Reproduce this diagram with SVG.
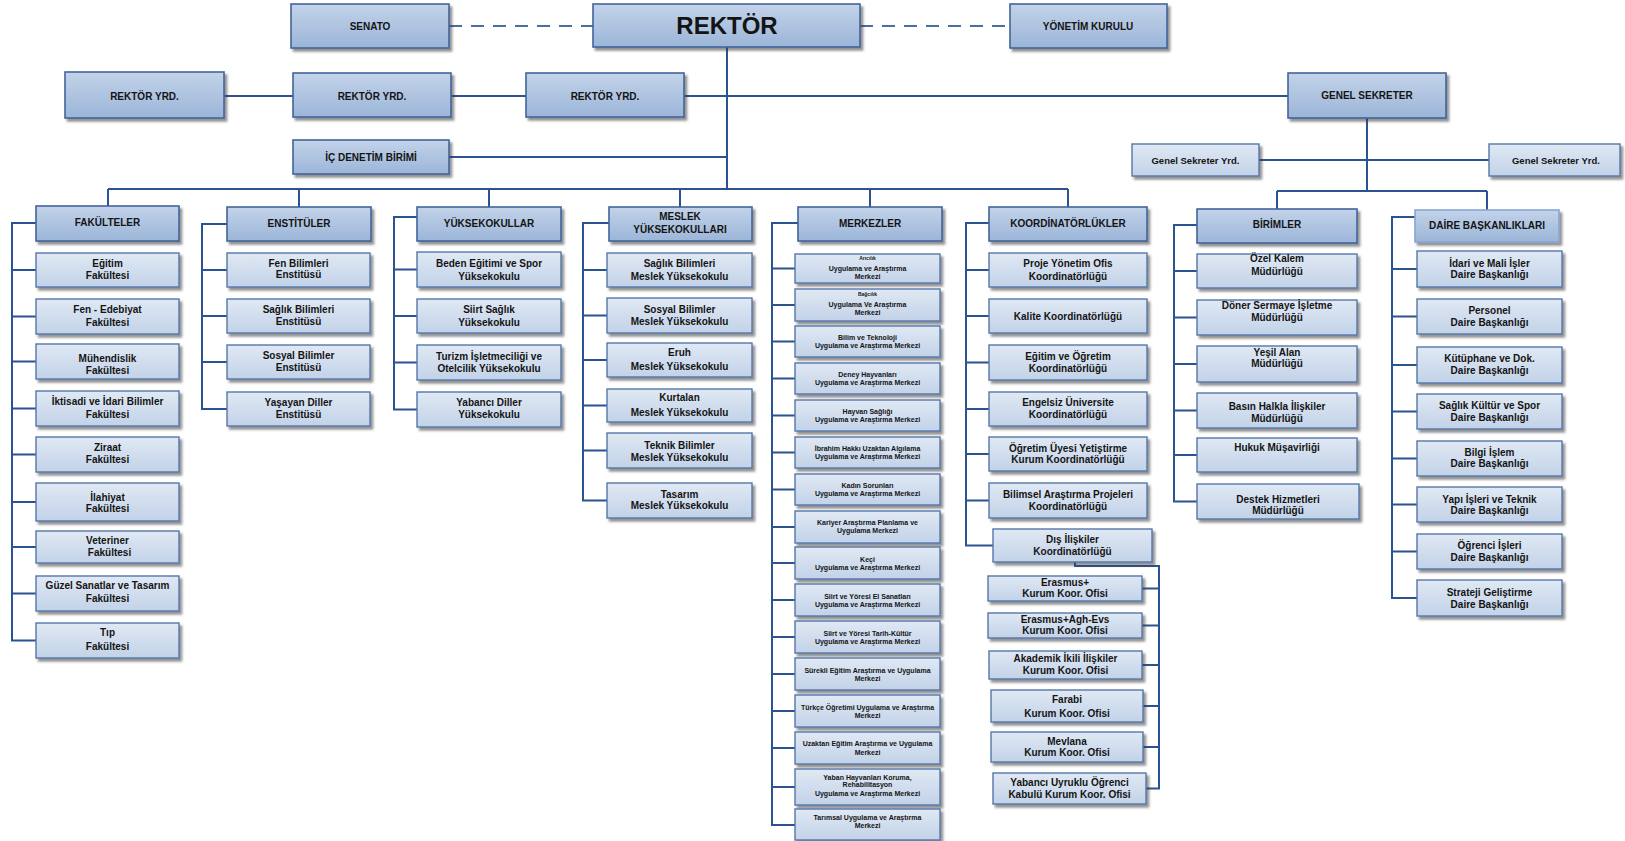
<svg xmlns="http://www.w3.org/2000/svg" width="1625" height="841" viewBox="0 0 1625 841">
<defs>
<linearGradient id="gh" x1="0" y1="0" x2="0" y2="1"><stop offset="0" stop-color="#c3d3e9"/><stop offset="1" stop-color="#9bb5d8"/></linearGradient>
<linearGradient id="gc" x1="0" y1="0" x2="0" y2="1"><stop offset="0" stop-color="#e0e9f4"/><stop offset="1" stop-color="#c2d2e8"/></linearGradient>
<filter id="sh" x="-10%" y="-20%" width="125%" height="150%"><feDropShadow dx="2.5" dy="3" stdDeviation="1.1" flood-color="#3a3a3a" flood-opacity="0.55"/></filter>
<style>
.h{fill:url(#gh);stroke:#41649a;stroke-width:1.6;filter:url(#sh)}
.c{fill:url(#gc);stroke:#5577a8;stroke-width:1.4;filter:url(#sh)}
.d{fill:url(#gh);stroke:#86a6d6;stroke-width:1.6;filter:url(#sh)}
text{font-family:"Liberation Sans",Arial,sans-serif;font-weight:bold;fill:#141414;text-anchor:middle;font-size:10px}
.f7{font-size:7px}.f5{font-size:5px}.big{font-size:24px}.n{font-size:9.5px}
.ln{fill:none;stroke:#2c5391;stroke-width:2}
.ds{fill:none;stroke:#4a6e9f;stroke-width:2;stroke-dasharray:13 9}
</style>
</defs>
<rect width="1625" height="841" fill="#ffffff"/>

<g id="connectors">
<path class="ds" d="M449 26H593M860 26H1010"/>
<path class="ln" d="M727 47V189M224 96H293M451 96H526M684 96H1288M449 157H727"/>
<path class="ln" d="M108 189H1068M108 189V206M299 189V207M489 189V207M680 189V207M870 189V207M1068 189V207"/>
<path class="ln" d="M1367 118V191M1259 160H1489M1277 191H1487M1277 191V209M1487 191V210"/>
<path class="ln" d="M36 223H12V640.5H36M12 270H36M12 316.5H36M12 361.5H36M12 408.5H36M12 454.5H36M12 502H36M12 547H36M12 593.5H36"/>
<path class="ln" d="M227 224H202V409H227M202 270H227M202 316H227M202 362H227"/>
<path class="ln" d="M417 217H394V409.5H417M394 269.5H417M394 316H417M394 362.5H417"/>
<path class="ln" d="M609 223H583V500.5H607M583 270H607M583 315.5H607M583 360H607M583 405.5H607M583 450.5H607"/>
<path class="ln" d="M798 223H772V825H795M772 268.5H795M772 305H795M772 341.5H795M772 378.5H795M772 415.5H795M772 452.5H795M772 489.5H795M772 527H795M772 563H795M772 600H795M772 637H795M772 674H795M772 711H795M772 748H795M772 787H795"/>
<path class="ln" d="M989 223H966V545.5H993M966 270H989M966 316H989M966 362.5H989M966 409H989M966 454H989M966 500.5H989"/>
<path class="ln" d="M1075 562V566H1159V788.5H1146M1159 588.5H1142M1159 625.5H1142M1159 665H1142M1159 706H1143M1159 747H1143"/>
<path class="ln" d="M1197 225H1174V501.5H1197M1174 271H1197M1174 317.5H1197M1174 364H1197M1174 410.5H1197M1174 455H1197"/>
<path class="ln" d="M1415 217H1392V598H1417M1392 269H1417M1392 316.5H1417M1392 365H1417M1392 411.5H1417M1392 458.5H1417M1392 504.5H1417M1392 551.5H1417"/>
</g>

<g id="senato"><rect class="h" x="291" y="4" width="158" height="44"/><text x="370" y="29.5">SENATO</text></g>
<g id="rektor"><rect class="h" x="593" y="4" width="267" height="43"/><text class="big" x="727" y="34">REKTÖR</text></g>
<g id="yonetim-kurulu"><rect class="h" x="1010" y="4" width="157" height="44"/><text x="1088" y="29.5">YÖNETİM KURULU</text></g>
<g id="rektor-yrd-1"><rect class="h" x="65" y="72" width="159" height="46"/><text x="144.5" y="99.5">REKTÖR YRD.</text></g>
<g id="rektor-yrd-2"><rect class="h" x="293" y="73" width="158" height="44"/><text x="372" y="99.5">REKTÖR YRD.</text></g>
<g id="rektor-yrd-3"><rect class="h" x="526" y="73" width="158" height="44"/><text x="605" y="99.5">REKTÖR YRD.</text></g>
<g id="genel-sekreter"><rect class="h" x="1288" y="73" width="158" height="45"/><text x="1367" y="98.5">GENEL SEKRETER</text></g>
<g id="ic-denetim"><rect class="h" x="293" y="140" width="156" height="34"/><text x="371" y="160.5">İÇ DENETİM BİRİMİ</text></g>
<g id="gs-yrd-1"><rect class="c" x="1132" y="144" width="127" height="32"/><text class="n" x="1195.5" y="163.5">Genel Sekreter Yrd.</text></g>
<g id="gs-yrd-2"><rect class="c" x="1489" y="144" width="131" height="32"/><text class="n" x="1556" y="163.5">Genel Sekreter Yrd.</text></g>

<g id="fakulteler"><rect class="h" x="36" y="206" width="143" height="35"/><text x="107.5" y="226">FAKÜLTELER</text></g>
<g id="f-egitim"><rect class="c" x="36" y="253" width="143" height="34"/><text x="107.5" y="266.5">Eğitim</text><text x="107.5" y="278.5">Fakültesi</text></g>
<g id="f-fen"><rect class="c" x="36" y="299" width="143" height="35"/><text x="107.5" y="312.5">Fen - Edebiyat</text><text x="107.5" y="325.5">Fakültesi</text></g>
<g id="f-muh"><rect class="c" x="36" y="344" width="143" height="35"/><text x="107.5" y="361.5">Mühendislik</text><text x="107.5" y="373.5">Fakültesi</text></g>
<g id="f-iktisadi"><rect class="c" x="36" y="391" width="143" height="35"/><text x="107.5" y="404.5">İktisadi ve İdari Bilimler</text><text x="107.5" y="417.5">Fakültesi</text></g>
<g id="f-ziraat"><rect class="c" x="36" y="437" width="143" height="35"/><text x="107.5" y="450.5">Ziraat</text><text x="107.5" y="462.5">Fakültesi</text></g>
<g id="f-ilahiyat"><rect class="c" x="36" y="483" width="143" height="38"/><text x="107.5" y="500.5">İlahiyat</text><text x="107.5" y="511.5">Fakültesi</text></g>
<g id="f-veteriner"><rect class="c" x="36" y="531" width="143" height="32"/><text x="107.5" y="543.5">Veteriner</text><text x="109.5" y="555.5">Fakültesi</text></g>
<g id="f-guzel"><rect class="c" x="36" y="576" width="143" height="35"/><text x="107.5" y="588.5">Güzel Sanatlar ve Tasarım</text><text x="107.5" y="601.5">Fakültesi</text></g>
<g id="f-tip"><rect class="c" x="36" y="623" width="143" height="35"/><text x="107.5" y="635.5">Tıp</text><text x="107.5" y="649.5">Fakültesi</text></g>

<g id="enstituler"><rect class="h" x="227" y="207" width="144" height="34"/><text x="299" y="226.5">ENSTİTÜLER</text></g>
<g id="e-fen"><rect class="c" x="227" y="253" width="143" height="34"/><text x="298.5" y="266.5">Fen Bilimleri</text><text x="298.5" y="277.5">Enstitüsü</text></g>
<g id="e-saglik"><rect class="c" x="227" y="299" width="143" height="34"/><text x="298.5" y="312.5">Sağlık Bilimleri</text><text x="298.5" y="324.5">Enstitüsü</text></g>
<g id="e-sosyal"><rect class="c" x="227" y="345" width="143" height="34"/><text x="298.5" y="358.5">Sosyal Bilimler</text><text x="298.5" y="370.5">Enstitüsü</text></g>
<g id="e-yasayan"><rect class="c" x="227" y="392" width="143" height="34"/><text x="298.5" y="405.5">Yaşayan Diller</text><text x="298.5" y="417.5">Enstitüsü</text></g>

<g id="yuksekokullar"><rect class="h" x="417" y="207" width="144" height="34"/><text x="489" y="226.5">YÜKSEKOKULLAR</text></g>
<g id="y-beden"><rect class="c" x="417" y="252" width="144" height="35"/><text x="489" y="266.5">Beden Eğitimi ve Spor</text><text x="489" y="279.5">Yüksekokulu</text></g>
<g id="y-siirt"><rect class="c" x="417" y="299" width="144" height="34"/><text x="489" y="312.5">Siirt Sağlık</text><text x="489" y="325.5">Yüksekokulu</text></g>
<g id="y-turizm"><rect class="c" x="417" y="345" width="144" height="35"/><text x="489" y="359.5">Turizm İşletmeciliği ve</text><text x="489" y="371.5">Otelcilik Yüksekokulu</text></g>
<g id="y-yabanci"><rect class="c" x="417" y="392" width="144" height="35"/><text x="489" y="405.5">Yabancı Diller</text><text x="489" y="417.5">Yüksekokulu</text></g>

<g id="meslek-yuksekokullari"><rect class="h" x="609" y="207" width="143" height="34"/><text x="680" y="219.5">MESLEK</text><text x="680" y="232.5">YÜKSEKOKULLARI</text></g>
<g id="m-saglik"><rect class="c" x="607" y="253" width="145" height="34"/><text x="679.5" y="266.5">Sağlık Bilimleri</text><text x="679.5" y="279.5">Meslek Yüksekokulu</text></g>
<g id="m-sosyal"><rect class="c" x="607" y="298" width="145" height="35"/><text x="679.5" y="312.5">Sosyal Bilimler</text><text x="679.5" y="324.5">Meslek Yüksekokulu</text></g>
<g id="m-eruh"><rect class="c" x="607" y="343" width="145" height="34"/><text x="679.5" y="355.5">Eruh</text><text x="679.5" y="369.5">Meslek Yüksekokulu</text></g>
<g id="m-kurtalan"><rect class="c" x="607" y="389" width="145" height="33"/><text x="679.5" y="400.5">Kurtalan</text><text x="679.5" y="415.5">Meslek Yüksekokulu</text></g>
<g id="m-teknik"><rect class="c" x="607" y="433" width="145" height="35"/><text x="679.5" y="448.5">Teknik Bilimler</text><text x="679.5" y="460.5">Meslek Yüksekokulu</text></g>
<g id="m-tasarim"><rect class="c" x="607" y="483" width="145" height="35"/><text x="679.5" y="497.5">Tasarım</text><text x="679.5" y="508.5">Meslek Yüksekokulu</text></g>

<g id="merkezler"><rect class="h" x="798" y="207" width="144" height="34"/><text x="870" y="226.5">MERKEZLER</text></g>
<g id="mk-aricilik"><rect class="c" x="795" y="254" width="145" height="29"/><text class="f5" x="867.5" y="259.8">Arıcılık</text><text class="f7" x="867.5" y="270.5">Uygulama ve Araştırma</text><text class="f7" x="867.5" y="278.5">Merkezi</text></g>
<g id="mk-bagcilik"><rect class="c" x="795" y="289" width="145" height="32"/><text class="f5" x="867.5" y="295.8">Bağcılık</text><text class="f7" x="867.5" y="306.5">Uygulama Ve Araştırma</text><text class="f7" x="867.5" y="314.5">Merkezi</text></g>
<g id="mk-bilim"><rect class="c" x="795" y="326" width="145" height="31"/><text class="f7" x="867.5" y="339.5">Bilim ve Teknoloji</text><text class="f7" x="867.5" y="347.5">Uygulama ve Araştırma Merkezi</text></g>
<g id="mk-deney"><rect class="c" x="795" y="363" width="145" height="31"/><text class="f7" x="867.5" y="376.5">Deney Hayvanları</text><text class="f7" x="867.5" y="384.5">Uygulama ve Araştırma Merkezi</text></g>
<g id="mk-hayvan"><rect class="c" x="795" y="400" width="145" height="31"/><text class="f7" x="867.5" y="413.5">Hayvan Sağlığı</text><text class="f7" x="867.5" y="421.5">Uygulama ve Araştırma Merkezi</text></g>
<g id="mk-ibrahim"><rect class="c" x="795" y="437" width="145" height="31"/><text class="f7" x="867.5" y="450.5">İbrahim Hakkı Uzaktan Algılama</text><text class="f7" x="867.5" y="458.5">Uygulama ve Araştırma Merkezi</text></g>
<g id="mk-kadin"><rect class="c" x="795" y="474" width="145" height="31"/><text class="f7" x="867.5" y="487.5">Kadın Sorunları</text><text class="f7" x="867.5" y="495.5">Uygulama ve Araştırma Merkezi</text></g>
<g id="mk-kariyer"><rect class="c" x="795" y="511" width="145" height="32"/><text class="f7" x="867.5" y="524.5">Kariyer Araştırma Planlama ve</text><text class="f7" x="867.5" y="532.5">Uygulama  Merkezi</text></g>
<g id="mk-keci"><rect class="c" x="795" y="547" width="145" height="32"/><text class="f7" x="867.5" y="561.5">Keçi</text><text class="f7" x="867.5" y="569.5">Uygulama ve Araştırma Merkezi</text></g>
<g id="mk-elsanat"><rect class="c" x="795" y="584" width="145" height="32"/><text class="f7" x="867.5" y="598.5">Siirt ve Yöresi El Sanatları</text><text class="f7" x="867.5" y="606.5">Uygulama ve Araştırma Merkezi</text></g>
<g id="mk-tarih"><rect class="c" x="795" y="621" width="145" height="32"/><text class="f7" x="867.5" y="635.5">Siirt ve Yöresi Tarih-Kültür</text><text class="f7" x="867.5" y="643.5">Uygulama ve Araştırma Merkezi</text></g>
<g id="mk-surekli"><rect class="c" x="795" y="658" width="145" height="32"/><text class="f7" x="867.5" y="672.5">Sürekli Eğitim Araştırma ve Uygulama</text><text class="f7" x="867.5" y="680.5">Merkezi</text></g>
<g id="mk-turkce"><rect class="c" x="795" y="695" width="145" height="32"/><text class="f7" x="867.5" y="709.5">Türkçe Öğretimi Uygulama ve Araştırma</text><text class="f7" x="867.5" y="717.5">Merkezi</text></g>
<g id="mk-uzaktan"><rect class="c" x="795" y="732" width="145" height="32"/><text class="f7" x="867.5" y="745.5">Uzaktan Eğitim Araştırma ve Uygulama</text><text class="f7" x="867.5" y="754.5">Merkezi</text></g>
<g id="mk-yaban"><rect class="c" x="795" y="769" width="145" height="36"/><text class="f7" x="867.5" y="779.5">Yaban Hayvanları Koruma,</text><text class="f7" x="867.5" y="786.5">Rehabilitasyon</text><text class="f7" x="867.5" y="795.5">Uygulama ve Araştırma Merkezi</text></g>
<g id="mk-tarimsal"><rect class="c" x="795" y="809" width="145" height="31"/><text class="f7" x="867.5" y="819.5">Tarımsal Uygulama ve Araştırma</text><text class="f7" x="867.5" y="827.5">Merkezi</text></g>

<g id="koordinatorlukler"><rect class="h" x="989" y="207" width="158" height="34"/><text x="1068" y="226.5">KOORDİNATÖRLÜKLER</text></g>
<g id="k-proje"><rect class="c" x="989" y="253" width="158" height="34"/><text x="1068" y="266.5">Proje Yönetim Ofis</text><text x="1068" y="279.5">Koordinatörlüğü</text></g>
<g id="k-kalite"><rect class="c" x="989" y="299" width="158" height="34"/><text x="1068" y="319.5">Kalite Koordinatörlüğü</text></g>
<g id="k-egitim"><rect class="c" x="989" y="345" width="158" height="35"/><text x="1068" y="359.5">Eğitim ve Öğretim</text><text x="1068" y="371.5">Koordinatörlüğü</text></g>
<g id="k-engelsiz"><rect class="c" x="989" y="392" width="158" height="34"/><text x="1068" y="405.5">Engelsiz Üniversite</text><text x="1068" y="417.5">Koordinatörlüğü</text></g>
<g id="k-ogretim"><rect class="c" x="989" y="437" width="158" height="34"/><text x="1068" y="451.5">Öğretim Üyesi Yetiştirme</text><text x="1068" y="462.5">Kurum Koordinatörlüğü</text></g>
<g id="k-bilimsel"><rect class="c" x="989" y="483" width="158" height="35"/><text x="1068" y="497.5">Bilimsel Araştırma Projeleri</text><text x="1068" y="509.5">Koordinatörlüğü</text></g>
<g id="k-dis"><rect class="c" x="993" y="529" width="159" height="33"/><text x="1072.5" y="542.5">Dış İlişkiler</text><text x="1072.5" y="554.5">Koordinatörlüğü</text></g>

<g id="o-erasmus"><rect class="c" x="988" y="576" width="154" height="25"/><text x="1065" y="585.5">Erasmus+</text><text x="1065" y="596.5">Kurum Koor. Ofisi</text></g>
<g id="o-agh"><rect class="c" x="988" y="613" width="154" height="25"/><text x="1065" y="622.5">Erasmus+Agh-Evs</text><text x="1065" y="633.5">Kurum Koor. Ofisi</text></g>
<g id="o-akademik"><rect class="c" x="989" y="651" width="153" height="28"/><text x="1065.5" y="661.5">Akademik İkili İlişkiler</text><text x="1065.5" y="673.5">Kurum Koor. Ofisi</text></g>
<g id="o-farabi"><rect class="c" x="991" y="690" width="152" height="32"/><text x="1067" y="702.5">Farabi</text><text x="1067" y="716.5">Kurum Koor. Ofisi</text></g>
<g id="o-mevlana"><rect class="c" x="991" y="732" width="152" height="30"/><text x="1067" y="744.5">Mevlana</text><text x="1067" y="755.5">Kurum Koor. Ofisi</text></g>
<g id="o-yabanci"><rect class="c" x="993" y="773" width="153" height="31"/><text x="1069.5" y="785.5">Yabancı Uyruklu Öğrenci</text><text x="1069.5" y="797.5">Kabulü Kurum Koor. Ofisi</text></g>

<g id="birimler"><rect class="h" x="1197" y="209" width="160" height="34"/><text x="1277" y="227.5">BİRİMLER</text></g>
<g id="b-ozel"><rect class="c" x="1197" y="254" width="160" height="34"/><text x="1277" y="261.5">Özel Kalem</text><text x="1277" y="274.5">Müdürlüğü</text></g>
<g id="b-doner"><rect class="c" x="1197" y="300" width="160" height="35"/><text x="1277" y="308.5">Döner Sermaye İşletme</text><text x="1277" y="320.5">Müdürlüğü</text></g>
<g id="b-yesil"><rect class="c" x="1197" y="346" width="160" height="36"/><text x="1277" y="355.5">Yeşil Alan</text><text x="1277" y="366.5">Müdürlüğü</text></g>
<g id="b-basin"><rect class="c" x="1197" y="393" width="160" height="35"/><text x="1277" y="409.5">Basın Halkla İlişkiler</text><text x="1277" y="421.5">Müdürlüğü</text></g>
<g id="b-hukuk"><rect class="c" x="1197" y="438" width="160" height="34"/><text x="1277" y="450.5">Hukuk Müşavirliği</text></g>
<g id="b-destek"><rect class="c" x="1197" y="484" width="162" height="35"/><text x="1278" y="502.5">Destek Hizmetleri</text><text x="1278" y="513.5">Müdürlüğü</text></g>

<g id="daire-baskanliklari"><rect class="d" x="1415" y="210" width="144" height="32"/><text x="1487" y="228.5">DAİRE BAŞKANLIKLARI</text></g>
<g id="d-idari"><rect class="c" x="1417" y="251" width="145" height="36"/><text x="1489.5" y="266.5">İdari ve Mali İşler</text><text x="1489.5" y="277.5">Daire Başkanlığı</text></g>
<g id="d-personel"><rect class="c" x="1417" y="299" width="145" height="35"/><text x="1489.5" y="313.5">Personel</text><text x="1489.5" y="325.5">Daire Başkanlığı</text></g>
<g id="d-kutuphane"><rect class="c" x="1417" y="347" width="145" height="36"/><text x="1489.5" y="361.5">Kütüphane ve Dok.</text><text x="1489.5" y="373.5">Daire Başkanlığı</text></g>
<g id="d-saglik"><rect class="c" x="1417" y="394" width="145" height="35"/><text x="1489.5" y="408.5">Sağlık Kültür ve Spor</text><text x="1489.5" y="420.5">Daire Başkanlığı</text></g>
<g id="d-bilgi"><rect class="c" x="1417" y="441" width="145" height="35"/><text x="1489.5" y="455.5">Bilgi İşlem</text><text x="1489.5" y="466.5">Daire Başkanlığı</text></g>
<g id="d-yapi"><rect class="c" x="1417" y="487" width="145" height="35"/><text x="1489.5" y="502.5">Yapı İşleri ve Teknik</text><text x="1489.5" y="513.5">Daire Başkanlığı</text></g>
<g id="d-ogrenci"><rect class="c" x="1417" y="534" width="145" height="35"/><text x="1489.5" y="548.5">Öğrenci İşleri</text><text x="1489.5" y="560.5">Daire Başkanlığı</text></g>
<g id="d-strateji"><rect class="c" x="1417" y="580" width="145" height="36"/><text x="1489.5" y="595.5">Strateji Geliştirme</text><text x="1489.5" y="607.5">Daire Başkanlığı</text></g>
</svg>
